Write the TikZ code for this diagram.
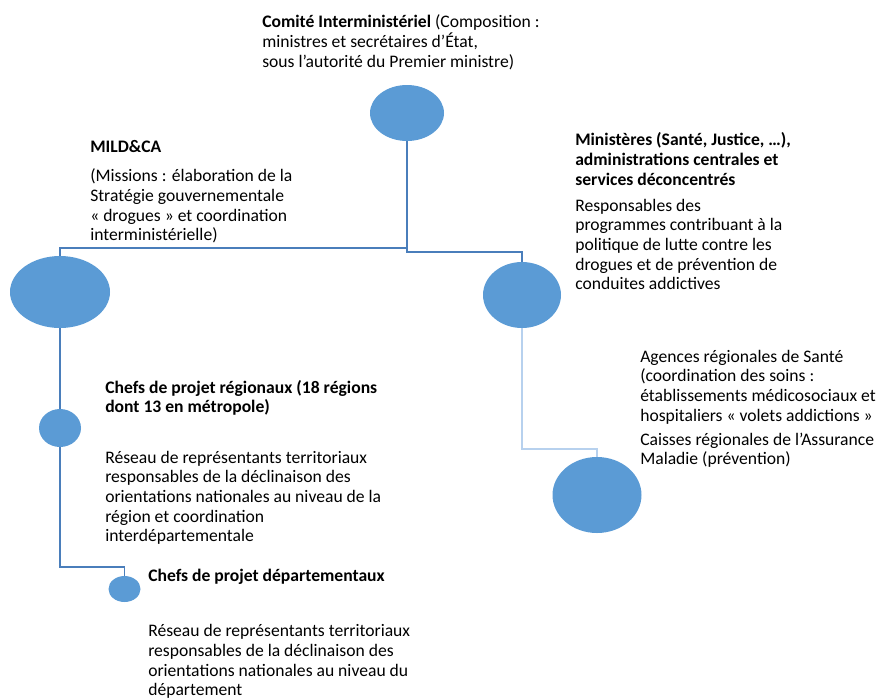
\documentclass[tikz,border=0pt]{standalone}
\usepackage{fontspec}
\setmainfont{Carlito}
\usetikzlibrary{shapes.geometric}
\definecolor{bub}{HTML}{5B9BD5}
\definecolor{conn}{HTML}{4A7EBB}
\definecolor{connlight}{HTML}{B7D1EE}
\newcommand{\blk}[1]{\begin{tabular}[t]{@{}l@{}}#1\end{tabular}}
\begin{document}
\begin{tikzpicture}[x=0.75pt,y=-0.75pt,
  bubble/.style={ellipse,fill=bub,draw=none,inner sep=0pt},
  txt/.style={anchor=base west,inner sep=0pt,font=\fontsize{13.2pt}{14.8pt}\selectfont},
  link/.style={draw=conn,line width=1pt},
  linklight/.style={draw=connlight,line width=1pt}]
\path[use as bounding box] (0,0) rectangle (881,697);
% bubbles
\node[bubble,minimum width=55.5pt,minimum height=42pt] (top) at (407,113) {};
\node[bubble,minimum width=75pt,minimum height=54pt] (L) at (60,292) {};
\node[bubble,minimum width=58.5pt,minimum height=49.5pt] (R) at (522,295) {};
\node[bubble,minimum width=66.75pt,minimum height=57pt] (BR) at (597,495) {};
\node[bubble,minimum width=31.5pt,minimum height=28.5pt] (reg) at (60,428) {};
\node[bubble,minimum width=24pt,minimum height=19.5pt] (dep) at (124.5,589) {};
% connector corners
\coordinate (busL) at (407,248);
\coordinate (busR) at (407,252);
\coordinate (busBR) at (522,449);
\coordinate (busD) at (60,567);
% connectors
\draw[link] (top.south) -- (busL) -| (L.north);
\draw[link] (top.south) -- (busR) -| (R.north);
\draw[link] (L.south) -- (reg.north);
\draw[link] (reg.south) -- (busD) -| (dep.north);
\draw[linklight] (R.south) -- (busBR) -| (BR.north);
% texts
\node[txt] (tComite) at (262,27) {\blk{\textbf{Comité Interministériel} (Composition :\\ministres et secrétaires d’État,\\sous l’autorité du Premier ministre)}};
\node[txt] (tMild) at (90,152.7) {\blk{\textbf{MILD\&CA}}};
\node[txt] (tMildB) at (90,181.7) {\blk{(Missions : élaboration de la\\Stratégie gouvernementale\\« drogues » et coordination\\interministérielle)}};
\node[txt] (tMin) at (575,145.7) {\blk{\textbf{Ministères (Santé, Justice, …),}\\\textbf{administrations centrales et}\\\textbf{services déconcentrés}}};
\node[txt] (tMinB) at (575,211) {\blk{Responsables des\\programmes contribuant à la\\politique de lutte contre les\\drogues et de prévention de\\conduites addictives}};
\node[txt] (tARS) at (640,362) {\blk{Agences régionales de Santé\\(coordination des soins :\\établissements médicosociaux et\\hospitaliers « volets addictions »}};
\node[txt] (tCaisse) at (640,445) {\blk{Caisses régionales de l’Assurance\\Maladie (prévention)}};
\node[txt] (tReg) at (105,393) {\blk{\textbf{Chefs de projet régionaux (18 régions}\\\textbf{dont 13 en métropole)}}};
\node[txt] (tRegB) at (105,463) {\blk{Réseau de représentants territoriaux\\responsables de la déclinaison des\\orientations nationales au niveau de la\\région et coordination\\interdépartementale}};
\node[txt] (tDep) at (148,581.7) {\blk{\textbf{Chefs de projet départementaux}}};
\node[txt] (tDepB) at (148,636.7) {\blk{Réseau de représentants territoriaux\\responsables de la déclinaison des\\orientations nationales au niveau du\\département}};
\end{tikzpicture}
\end{document}
